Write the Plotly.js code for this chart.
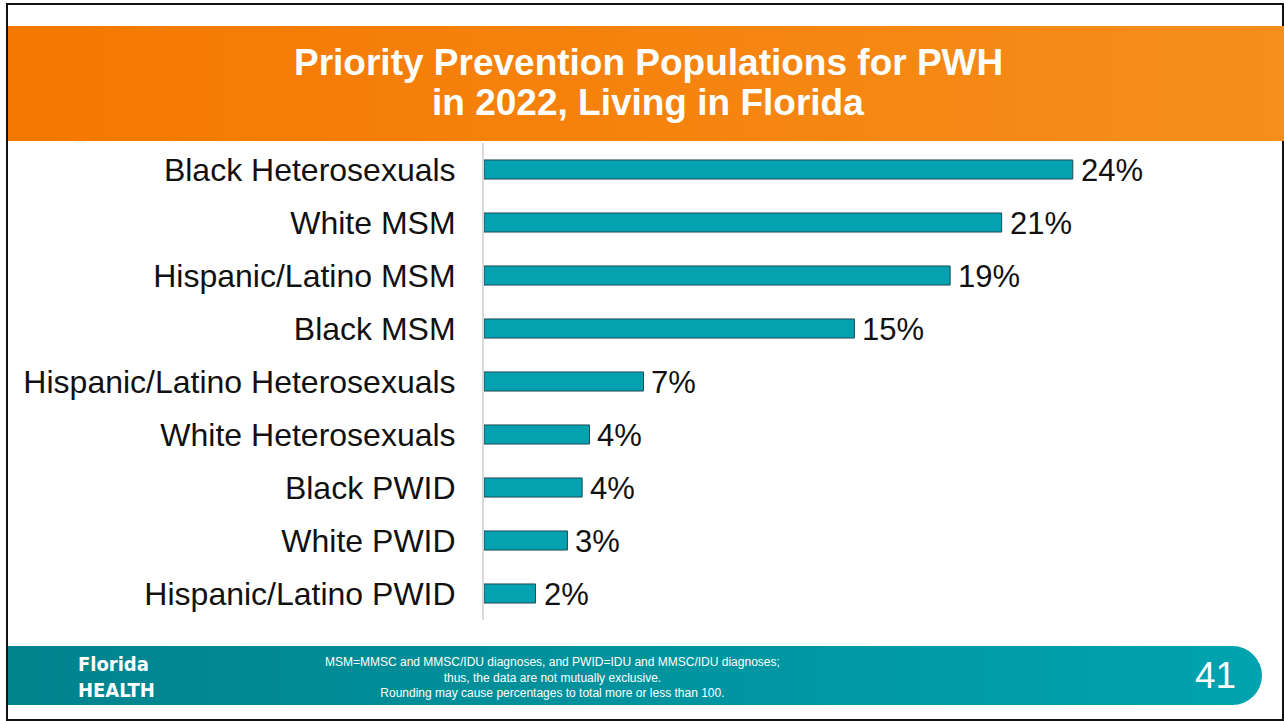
<!DOCTYPE html>
<html>
<head>
<meta charset="utf-8">
<script src="https://cdn.plot.ly/plotly-3.0.1.min.js"></script>
<style>
  html, body { margin: 0; padding: 0; background: #fff; }
  #wrap { position: relative; width: 1284px; height: 721px; overflow: hidden; background: #fff; }
  #border { position: absolute; left: 6px; top: 3px; width: 1274px; height: 714px; border: 2px solid #111; }
  #header { position: absolute; left: 8px; top: 26px; width: 1276px; height: 115px;
            background: linear-gradient(to right, #F57800, #F68E1C); }
  #footer { position: absolute; left: 8px; top: 646px; width: 1254px; height: 59px;
            background: linear-gradient(to right, #00838D, #00A3AF); border-radius: 0 30px 30px 0; }
  #chart { position: absolute; left: 0; top: 0; width: 1284px; height: 721px; }
</style>
</head>
<body>
<div id="wrap">
  <div id="border"></div>
  <div id="header"></div>
  <div id="footer"></div>
  <div id="chart"></div>
</div>
<script>
const categories = [
  "Black Heterosexuals",
  "White MSM",
  "Hispanic/Latino MSM",
  "Black MSM",
  "Hispanic/Latino Heterosexuals",
  "White Heterosexuals",
  "Black PWID",
  "White PWID",
  "Hispanic/Latino PWID"
];
const values = [24.0, 21.1, 19.0, 15.1, 6.5, 4.3, 4.0, 3.4, 2.1];
const valueLabels = ["24%", "21%", "19%", "15%", "7%", "4%", "4%", "3%", "2%"];

const titleLines = ["Priority Prevention Populations for PWH", "in 2022, Living in Florida"];
const footnoteText = "MSM=MMSC and MMSC/IDU diagnoses, and PWID=IDU and MMSC/IDU diagnoses;<br>thus, the data are not mutually exclusive.<br>Rounding may cause percentages to total more or less than 100.";
const pageNumber = "41";
const logoText = "Florida<br>HEALTH";

const FONT = "Liberation Sans, Arial, sans-serif";
const W = 1284, H = 721, ML = 484, MR = 64, MT = 143, MB = 101;

// helper: annotation placed at absolute pixel position (via paper coords + shifts)
function pix(px, py, text, font, extra) {
  return Object.assign({
    xref: "paper", yref: "paper", x: 0, y: 1,
    xanchor: "center", yanchor: "middle",
    xshift: px - ML, yshift: MT - py,
    text: text, showarrow: false, font: font
  }, extra || {});
}

const trace = {
  type: "bar",
  orientation: "h",
  y: categories,
  x: values,
  marker: { color: "#04A2B0", line: { color: "#1E4A55", width: 1 } },
  hoverinfo: "skip"
};

const valueAnnotations = categories.map((c, i) => ({
  x: values[i], y: c, xref: "x", yref: "y",
  xanchor: "left", yanchor: "middle", xshift: 6, yshift: -1,
  text: valueLabels[i], showarrow: false,
  font: { family: FONT, size: 31, color: "#111" }
}));

const layout = {
  width: W,
  height: H,
  margin: { l: ML, r: MR, t: MT, b: MB },
  paper_bgcolor: "rgba(0,0,0,0)",
  plot_bgcolor: "rgba(0,0,0,0)",
  showlegend: false,
  bargap: 0.64,
  font: { family: FONT, color: "#111" },
  xaxis: { range: [0, 30], visible: false, fixedrange: true },
  yaxis: {
    autorange: "reversed",
    showline: true,
    linecolor: "#D9D9D9",
    linewidth: 2,
    showgrid: false,
    zeroline: false,
    ticks: "",
    ticklabelstandoff: 20,
    tickfont: { family: FONT, size: 32, color: "#111" },
    fixedrange: true
  },
  annotations: valueAnnotations.concat([
    pix(648, 62, "<b>" + titleLines[0] + "</b>", { family: FONT, size: 37, color: "#fff" }),
    pix(648, 102, "<b>" + titleLines[1] + "</b>", { family: FONT, size: 37, color: "#fff" }),
    pix(552, 677, footnoteText, { family: FONT, size: 12, color: "#fff" }, { align: "center" }),
    pix(1215, 675, pageNumber, { family: FONT, size: 37, color: "#fff" }),
    pix(116, 677, "<b>" + logoText + "</b>", { family: "DejaVu Sans Condensed, sans-serif", size: 20, color: "#fff" }, { align: "left" })
  ])
};

Plotly.newPlot("chart", [trace], layout, { displayModeBar: false, staticPlot: true });
</script>
</body>
</html>
